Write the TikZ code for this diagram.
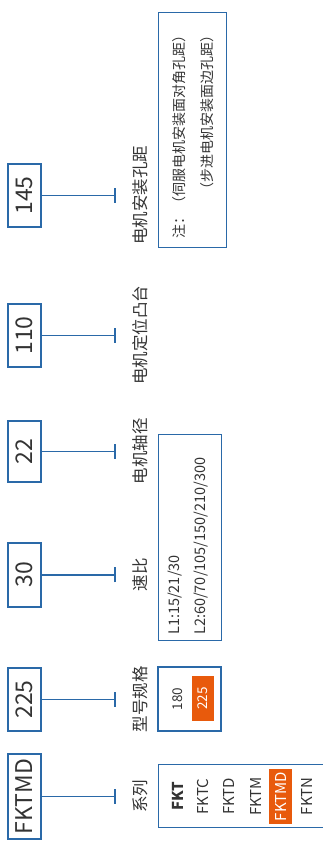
\documentclass[tikz,border=0pt]{standalone}
\usepackage{fontspec}
\setmainfont{Noto Sans CJK SC}
\definecolor{boxblue}{HTML}{2A69A8}
\definecolor{txt}{HTML}{333333}
\definecolor{hl}{HTML}{E85A0C}
\begin{document}
\begin{tikzpicture}[x=1pt,y=1pt,
  numbox/.style={draw=boxblue, line width=1.4pt, rotate=90, minimum height=33, inner sep=0pt, text=txt, font=\fontsize{23}{23}\selectfont},
  lbl/.style={rotate=90, text=txt, inner sep=0pt, font=\fontsize{16.5}{16.5}\selectfont},
  conn/.style={draw=boxblue, line width=1.3pt},
  rbox/.style={draw=boxblue, line width=1.4pt, inner sep=0pt},
  ser/.style={rotate=90, text=txt, inner sep=0pt, font=\fontsize{15}{15}\selectfont},
  hlbox/.style={fill=hl, rotate=90, text=white, inner sep=0pt},
  small/.style={rotate=90, text=txt, inner sep=0pt, font=\fontsize{14.5}{14.5}\selectfont},
  note/.style={rotate=90, text=txt, inner sep=0pt, font=\fontsize{14}{14}\selectfont}
]
\useasboundingbox (0,0) rectangle (323,852);
\clip (0,0) rectangle (323,852);

% left code boxes
\node (n1) [numbox, minimum width=85] at (24.5,55.5) {FKTMD};
\node (n2) [numbox, minimum width=63] at (24.5,152.5) {225};
\node (n3) [numbox, minimum width=64] at (24.5,277) {30};
\node (n4) [numbox, minimum width=61] at (24.5,400.5) {22};
\node (n5) [numbox, minimum width=63] at (24.5,516.5) {110};
\node (n6) [numbox, minimum width=63] at (24.5,656.5) {145};

% connector ends
\coordinate (t1) at (115,55.5);
\coordinate (t2) at (115,152.5);
\coordinate (t3) at (115,277);
\coordinate (t4) at (115,400.5);
\coordinate (t5) at (115,516.5);
\coordinate (t6) at (115,656.5);
\foreach \i in {1,...,6}{
  \draw[conn] (n\i.south) -- (t\i);
  \draw[conn] ([yshift=-7.5pt]t\i) -- ([yshift=7.5pt]t\i);
}

% labels
\node (l1) [lbl] at (140,55.5) {系列};
\node (l2) [lbl] at (140,152.5) {型号规格};
\node (l3) [lbl] at (140,277) {速比};
\node (l4) [lbl] at (140,400.5) {电机轴径};
\node (l5) [lbl] at (140,516.5) {电机定位凸台};
\node (l6) [lbl] at (140,656.5) {电机安装孔距};

% series box
\node (sbox) [rbox, minimum width=185, minimum height=63, anchor=south west] at (158,24) {};
\node (s1) [ser, font=\fontsize{15}{15}\selectfont\bfseries] at (178,55.5) {FKT};
\node (s2) [ser] at (203,55.5) {FKTC};
\node (s3) [ser] at (229,55.5) {FKTD};
\node (s4) [ser] at (256,55.5) {FKTM};
\node (s5) [hlbox, minimum width=55, minimum height=23, font=\fontsize{15}{15}\selectfont] at (280.5,55.5) {FKTMD};
\node (s6) [ser] at (307,55.5) {FKTN};

% spec box
\node (pbox) [rbox, minimum width=63, minimum height=64] at (189.5,153) {};
\node (p1) [small, font=\fontsize{13.5}{13.5}\selectfont] at (178,153) {180};
\node (p2) [hlbox, minimum width=45, minimum height=22, font=\fontsize{13.5}{13.5}\selectfont] at (203,153.5) {225};

% ratio box
\node (rbx) [rbox, minimum width=63, minimum height=206, anchor=south west] at (158,211) {};
\node (r1) [small, anchor=west] at (175,217) {L1:15/21/30};
\node (r2) [small, anchor=west] at (201,217) {L2:60/70/105/150/210/300};

% note box
\node (nbx) [rbox, minimum width=68, minimum height=235, anchor=south west] at (158,604) {};
\node (m1) [note, anchor=east] at (179,824) {注：（伺服电机安装面对角孔距）};
\node (m2) [note, anchor=east] at (207,824) {（步进电机安装面边孔距）};
\end{tikzpicture}
\end{document}
